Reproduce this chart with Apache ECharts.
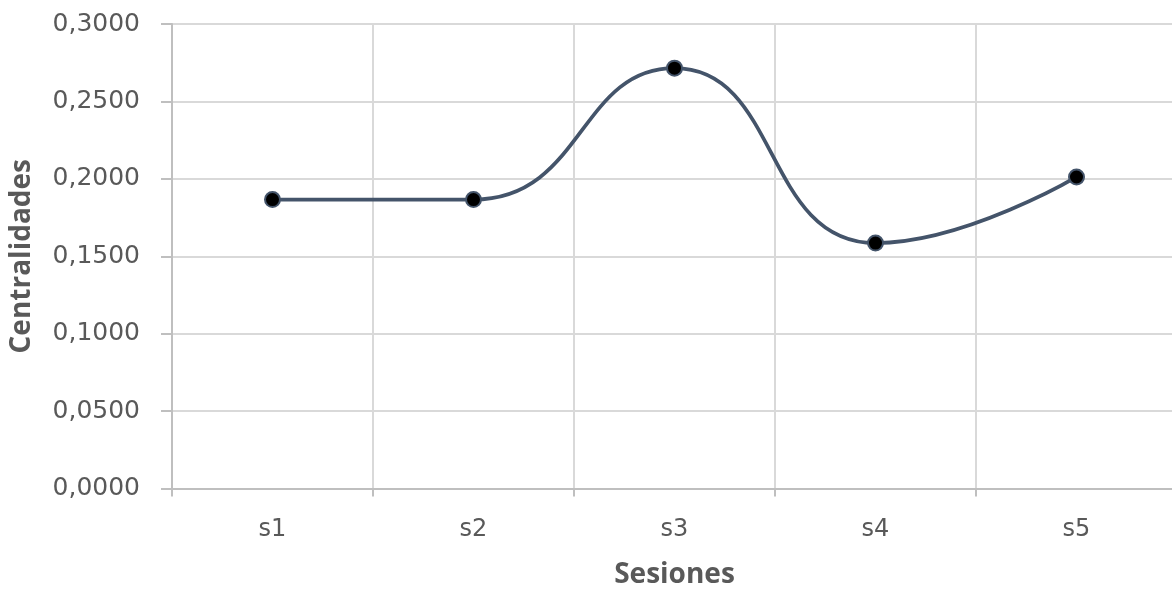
<!DOCTYPE html>
<html>
<head>
<meta charset="utf-8">
<script src="https://cdn.jsdelivr.net/npm/echarts@6/dist/echarts.min.js"></script>
<style>html,body{margin:0;padding:0;background:#fff;overflow:hidden}#c{width:1172px;height:591px}</style>
</head>
<body>
<div id="c"></div>
<script>
const categories = ['s1', 's2', 's3', 's4', 's5'];
const values = [0.1866, 0.1866, 0.2715, 0.1585, 0.2012];
const xTitle = 'Sesiones';
const yTitle = 'Centralidades';

const labelFont = '"DejaVu Sans", sans-serif';
const titleFont = '"Open Sans", "Noto Sans", sans-serif';
const chart = echarts.init(document.getElementById('c'), null, {renderer: 'canvas'});
chart.setOption({
  animation: false,
  backgroundColor: '#ffffff',
  grid: {left: 172, top: 24, width: 1005, height: 464.5, containLabel: false, outerBoundsMode: 'none'},
  xAxis: {
    type: 'category',
    data: categories,
    boundaryGap: true,
    name: xTitle,
    nameLocation: 'middle',
    nameGap: 73,
    nameTextStyle: {fontFamily: titleFont, fontSize: 28, fontWeight: 'bold', color: '#595959'},
    axisLine: {show: true, lineStyle: {color: '#bfbfbf', width: 2}},
    axisTick: {show: true, length: 8, lineStyle: {color: '#bfbfbf', width: 2}},
    axisLabel: {fontFamily: labelFont, fontSize: 24, color: '#595959', margin: 29},
    splitLine: {show: true, lineStyle: {color: '#d9d9d9', width: 2}}
  },
  yAxis: {
    type: 'value',
    min: 0, max: 0.3, interval: 0.05,
    name: yTitle,
    nameLocation: 'middle',
    nameGap: 136,
    nameRotate: 90,
    nameTextStyle: {fontFamily: titleFont, fontSize: 28, fontWeight: 'bold', color: '#595959'},
    axisLine: {show: true, lineStyle: {color: '#bfbfbf', width: 2}},
    axisTick: {show: true, length: 11, lineStyle: {color: '#bfbfbf', width: 2}},
    axisLabel: {fontFamily: labelFont, fontSize: 25, color: '#595959', margin: 32,
      formatter: v => v.toFixed(4).replace('.', ',')},
    splitLine: {show: true, lineStyle: {color: '#d9d9d9', width: 2}}
  },
  series: [{
    type: 'line',
    data: values,
    smooth: 0.5,
    symbol: 'circle',
    symbolSize: 15,
    lineStyle: {color: '#44546a', width: 3.75},
    itemStyle: {color: '#000000', borderColor: '#44546a', borderWidth: 2}
  }]
});
</script>
</body>
</html>
